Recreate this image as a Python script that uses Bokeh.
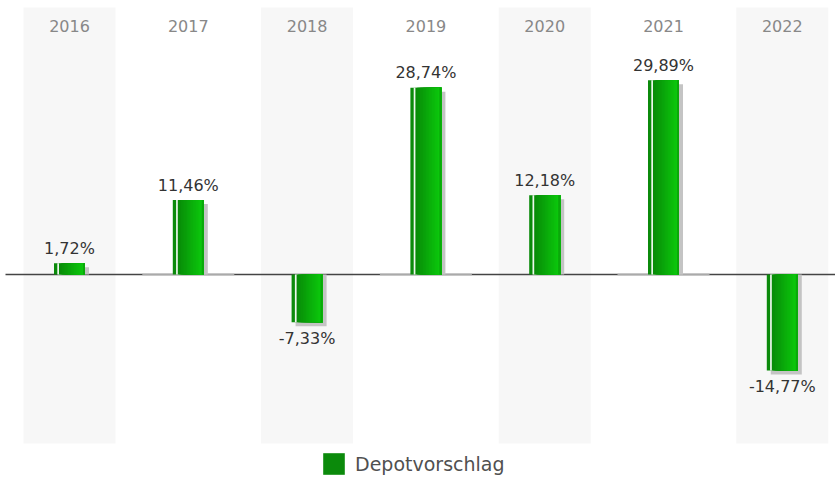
from bokeh.plotting import figure
from bokeh.models import ColumnDataSource, Range1d, Legend, LegendItem
from bokeh.transform import dodge
from bokeh.core.properties import value
from bokeh.embed import file_html
from bokeh.resources import INLINE

# ---- data ----
years = [2016, 2017, 2018, 2019, 2020, 2021, 2022]
returns = [1.72, 11.46, -7.33, 28.74, 12.18, 29.89, -14.77]
series_name = "Depotvorschlag"

# ---- layout constants ----
W, H = 835, 479
PX_PER_YEAR = 118.8
X_START = years[0] - 69 / PX_PER_YEAR
X_END = X_START + W / PX_PER_YEAR
PY = 6.5                             # px per data unit (y)
Y_END = 274 / PY
Y_START = Y_END - H / PY
BAND_TOP = Y_END - 7 / PY
BAND_BOTTOM = Y_END - 443 / PY
PXX = 1.0 / PX_PER_YEAR              # data units per px (x)
PXY = 1.0 / PY                       # data units per px (y)
BAR_PX = 31
BAND_W = 92 * PXX
FONT = "DejaVu Sans"

labels = [("%.2f" % v).replace(".", ",") + "%" for v in returns]
pos = [i for i, v in enumerate(returns) if v >= 0]
neg = [i for i, v in enumerate(returns) if v < 0]

src = ColumnDataSource(dict(
    x=years, top=returns, bottom=[0] * len(years),
    sh_top=[v - 4 * PXY if v > 0 else 0 for v in returns],
    sh_bottom=[0 if v > 0 else v - 4 * PXY for v in returns],
))
src_pos = ColumnDataSource(dict(x=[years[i] for i in pos], y=[returns[i] for i in pos],
                                t=[labels[i] for i in pos]))
src_neg = ColumnDataSource(dict(x=[years[i] for i in neg], y=[returns[i] for i in neg],
                                t=[labels[i] for i in neg]))

p = figure(width=W, height=H, output_backend="svg", toolbar_location=None,
           x_range=Range1d(X_START, X_END), y_range=Range1d(Y_START, Y_END),
           min_border_left=0, min_border_right=0, min_border_top=0, min_border_bottom=0)
p.xaxis.visible = False
p.yaxis.visible = False
p.grid.visible = False
p.outline_line_color = None
p.background_fill_color = "white"
p.border_fill_color = "white"

# alternating column bands
band_years = years[0::2]
white_years = years[1::2]
p.vbar(x=band_years, top=BAND_TOP, bottom=BAND_BOTTOM, width=BAND_W,
       fill_color="#f7f7f7", line_color=None)

# zero line
p.segment(x0=[X_START + 5 * PXX], y0=[0], x1=[X_END], y1=[0],
          line_color="#444444", line_width=1.6)
p.rect(x=white_years, y=0, width=BAND_W, height=1.6, height_units="screen",
       fill_color="#aaaaaa", line_color=None)

# shadows
p.vbar(x=dodge("x", 4 * PXX), top="sh_top", bottom="sh_bottom",
       width=BAR_PX * PXX, source=src, fill_color="#c4c4c4", line_color=None)

# bars as overlapping vertical strips imitating the gradient
def hexcol(c):
    return "#%02x%02x%02x" % tuple(int(round(t)) for t in c)

strips = [(0.0, "#0b8a0b"), (3.3, "#eef7ee")]
g0, g1 = (8, 140, 8), (11, 198, 12)
n = 16
x0, x1 = 5.0, 29.0
for k in range(n):
    a = x0 + (x1 - x0) * k / n
    t = k / (n - 1)
    c = tuple(g0[j] + (g1[j] - g0[j]) * t for j in range(3))
    strips.append((a, hexcol(c)))
strips.append((29.0, "#0aa80a"))

legend_renderer = None
for a, col in strips:
    b = BAR_PX
    center_off = ((a + b) / 2 - BAR_PX / 2) * PXX
    r = p.vbar(x=dodge("x", center_off), top="top", bottom="bottom",
               width=(b - a) * PXX, source=src, fill_color=col, line_color=None)
    if legend_renderer is None:
        legend_renderer = r

# value labels
p.text(x="x", y="y", text="t", source=src_pos, text_align="center", text_baseline="middle",
       y_offset=-15, text_font=value(FONT), text_font_size="16px", text_color="#333333")
p.text(x="x", y="y", text="t", source=src_neg, text_align="center", text_baseline="middle",
       y_offset=16, text_font=value(FONT), text_font_size="16px", text_color="#333333")

# year labels
p.text(x=years, y=Y_END, text=[str(y) for y in years], text_align="center",
       text_baseline="middle", y_offset=25, text_font=value(FONT), text_font_size="16px",
       text_color="#888888")

legend = Legend(items=[LegendItem(label=series_name, renderers=[legend_renderer])],
                location=(320, 2), orientation="horizontal", glyph_width=27,
                glyph_height=27, label_standoff=8, padding=0, margin=0,
                border_line_color=None, background_fill_alpha=0, label_text_font=FONT,
                label_text_font_size="19px", label_text_color="#505050", label_height=27)
p.add_layout(legend)

open("out.html", "w").write(file_html(p, INLINE))
